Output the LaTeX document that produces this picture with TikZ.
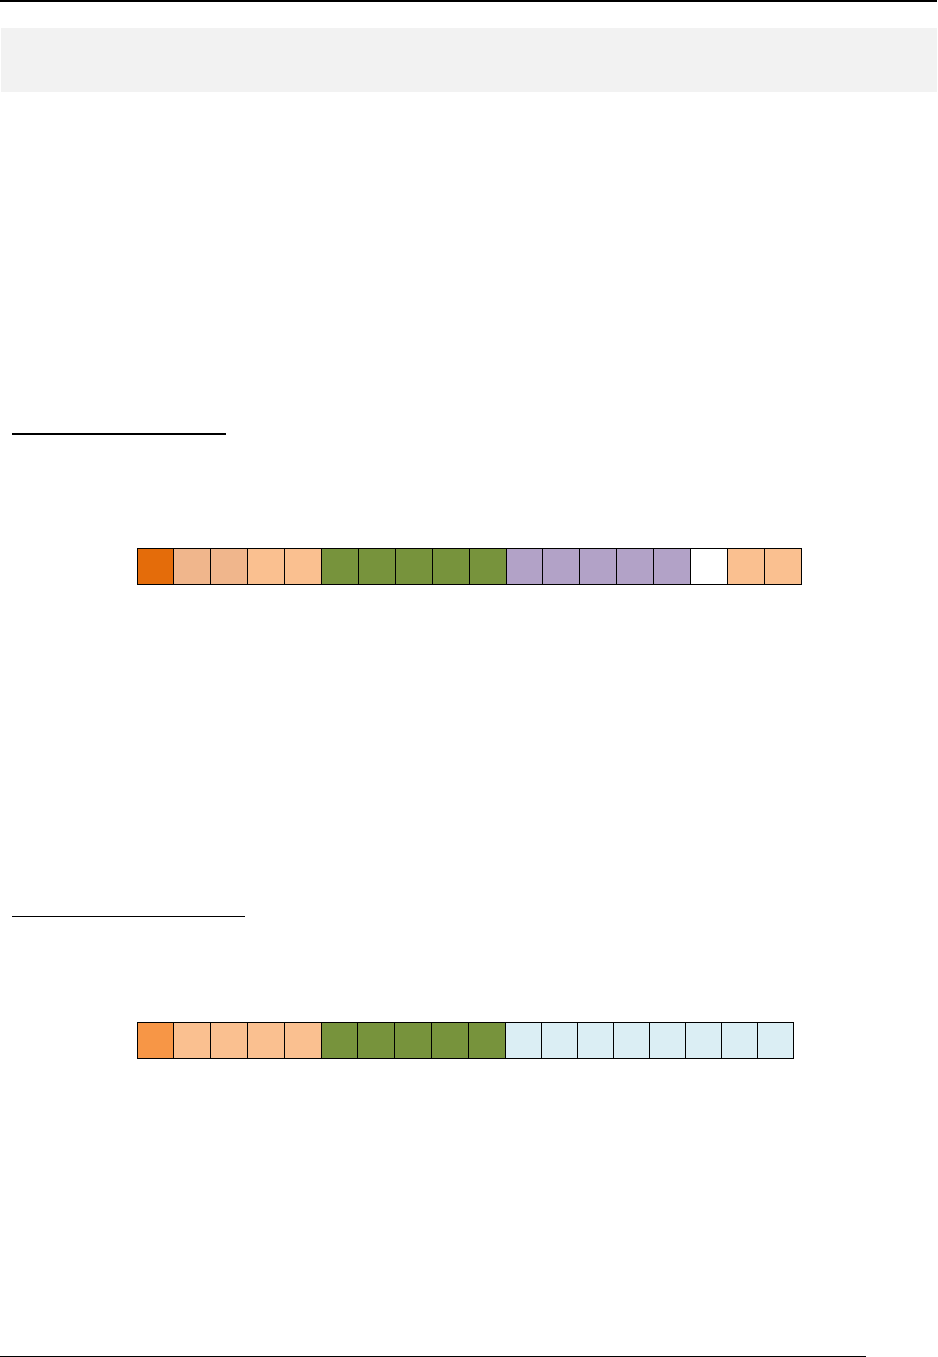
\documentclass[tikz,border=0pt]{standalone}
\usetikzlibrary{positioning}

\definecolor{deeporange}{HTML}{E46C0A}
\definecolor{brightorange}{HTML}{F79646}
\definecolor{peach}{HTML}{F0B68C}
\definecolor{apricot}{HTML}{FAC090}
\definecolor{olive}{HTML}{77933C}
\definecolor{lavender}{HTML}{B2A2C7}
\definecolor{paleblue}{HTML}{DBEEF4}
\definecolor{bandgrey}{HTML}{F2F2F2}

\begin{document}
\begin{tikzpicture}[
	  x=1pt, y=-1pt,
	  node distance=0pt,
	  cell/.style={rectangle, draw=black, line width=1pt, minimum width=36.8pt, minimum height=36pt, inner sep=0pt, outer sep=0pt},
	  rulerline/.style={draw=black, line width=1pt}
	]

	\useasboundingbox (0,0) rectangle (937,1357);

	% page header and footer
	\draw [rulerline, line width=1.5pt] (0,0.75) -- (937,0.75);
	\fill [bandgrey] (1,28) rectangle (937,92);
	\draw [rulerline] (0,1356) -- (866,1356);

	% headings (underlined, no text)
	\draw [rulerline, line width=2pt] (12,434) -- (226,434);
	\draw [rulerline] (12,916) -- (245,916);

	% first register
	\node (ra1) [cell, minimum width=36.9pt, fill=deeporange, anchor=north west] at (137,548) {};
	\foreach \c [count=\i from 2, remember=\i as \j (initially 1)] in
	  {peach,peach,apricot,apricot,olive,olive,olive,olive,olive,lavender,lavender,lavender,lavender,lavender,white,apricot,apricot}
	  \node (ra\i) [cell, minimum width=36.9pt, fill=\c, right=of ra\j] {};

	% second register
	\node (rb1) [cell, fill=brightorange, anchor=north west] at (137,1022) {};
	\foreach \c/\w [count=\i from 2, remember=\i as \j (initially 1)] in
	  {apricot/36.8,apricot/36.8,apricot/36.8,apricot/36.8,olive/36.8,olive/36.8,olive/36.8,olive/36.8,olive/36.8,
	   paleblue/36,paleblue/36,paleblue/36,paleblue/36,paleblue/36,paleblue/36,paleblue/36,paleblue/36}
	  \node (rb\i) [cell, minimum width=\w pt, fill=\c, right=of rb\j] {};

\end{tikzpicture}
\end{document}
